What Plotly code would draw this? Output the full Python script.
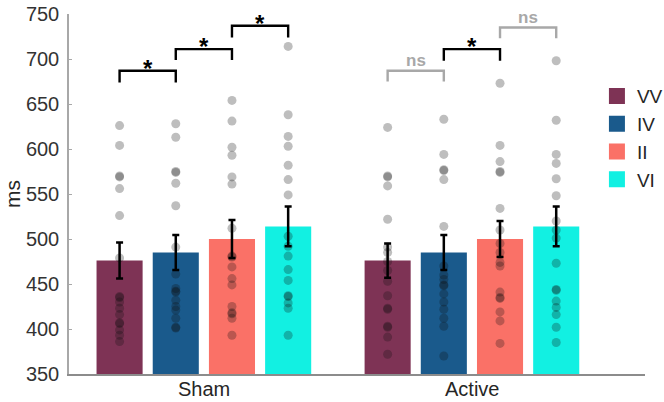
import plotly.graph_objects as go

# ---------------- data ----------------
groups = ["Sham", "Active"]
conditions = ["VV", "IV", "II", "VI"]
colors = ["#7E3355", "#1A5A8C", "#FA7167", "#12F0E2"]

mean_sham = [476, 485, 500, 514]
mean_active = [476, 485, 500, 514]
sem_sham = [20, 19.5, 21, 22]
sem_active = [19, 19.5, 20, 22]

sham_VV = [626, 604, 569, 570, 556, 526, 479, 436, 435, 430, 423, 416, 407, 406, 399, 393, 386]
sham_IV = [628, 613, 575, 574, 562, 537, 491, 461, 445, 442, 441, 432, 425, 421, 412, 402, 401]
sham_II = [654, 631, 602, 593, 569, 561, 512, 481, 480, 469, 456, 449, 425, 418, 417, 412, 393]
sham_VI = [714, 638, 614, 603, 582, 566, 549, 503, 492, 481, 466, 454, 437, 436, 429, 423, 393]
active_VV = [624, 570, 569, 559, 522, 491, 485, 475, 465, 453, 437, 423, 422, 403, 402, 391, 372]
active_IV = [633, 594, 577, 576, 566, 514, 470, 460, 455, 449, 448, 439, 430, 422, 412, 403, 370]
active_II = [673, 604, 586, 575, 574, 534, 510, 495, 485, 474, 470, 441, 435, 434, 419, 409, 384]
active_VI = [698, 632, 594, 584, 567, 548, 520, 510, 501, 473, 444, 443, 431, 424, 416, 402, 385]

points = {
    "Sham": [sham_VV, sham_IV, sham_II, sham_VI],
    "Active": [active_VV, active_IV, active_II, active_VI],
}
means = {"Sham": mean_sham, "Active": mean_active}
sems = {"Sham": sem_sham, "Active": sem_active}

# comparisons: (group, cond index a, cond index b, label, bracket top value, bracket leg bottom value)
comparisons = [
    ("Sham", 0, 1, "*", 687, 674),
    ("Sham", 1, 2, "*", 711, 699),
    ("Sham", 2, 3, "*", 737, 724),
    ("Active", 0, 1, "ns", 687, 675),
    ("Active", 1, 2, "*", 711, 698),
    ("Active", 2, 3, "ns", 735, 723),
]

# ---------------- layout helpers ----------------
group_start = {"Sham": 0.0, "Active": 4.77}
bar_w = 0.82


def xpos(g, i):
    return group_start[g] + i


fig = go.Figure()

# bars
for i, c in enumerate(conditions):
    fig.add_trace(go.Bar(
        x=[xpos(g, i) for g in groups],
        y=[means[g][i] for g in groups],
        width=bar_w,
        marker=dict(color=colors[i], line=dict(width=0)),
        showlegend=False,
        hoverinfo="skip",
    ))

# individual points
for g in groups:
    for i, c in enumerate(conditions):
        vals = points[g][i]
        fig.add_trace(go.Scatter(
            x=[xpos(g, i)] * len(vals),
            y=vals,
            mode="markers",
            marker=dict(size=9, color="rgba(15,15,15,0.27)", line=dict(width=0)),
            showlegend=False,
            hoverinfo="skip",
        ))

# error bars (on top of points)
for g in groups:
    fig.add_trace(go.Scatter(
        x=[xpos(g, i) for i in range(len(conditions))],
        y=means[g],
        mode="markers",
        marker=dict(size=1, color="rgba(0,0,0,0)"),
        error_y=dict(type="data", array=sems[g], color="black", thickness=2.5, width=3.5),
        showlegend=False,
        hoverinfo="skip",
    ))

# significance brackets
annotations = []
for g, a, b, lab, ytop, ybot in comparisons:
    xa, xb = xpos(g, a), xpos(g, b)
    col = "black" if lab == "*" else "#A8A8A8"
    fig.add_trace(go.Scatter(
        x=[xa, xa, xb, xb], y=[ybot, ytop, ytop, ybot],
        mode="lines", line=dict(color=col, width=2.4),
        showlegend=False, hoverinfo="skip",
    ))
    if lab == "*":
        annotations.append(dict(x=(xa + xb) / 2, y=ytop, text="<b>*</b>", showarrow=False,
                                xref="x", yref="y", yanchor="bottom", yshift=-13,
                                font=dict(size=24, color="black", family="Liberation Sans, Arial")))
    else:
        annotations.append(dict(x=(xa + xb) / 2, y=ytop, text="<b>ns</b>", showarrow=False,
                                xref="x", yref="y", yanchor="bottom", yshift=-1,
                                font=dict(size=17, color="#A8A8A8", family="Liberation Sans, Arial")))

# group labels under the axis
for g in groups:
    annotations.append(dict(x=group_start[g] + 1.5, y=0, xref="x", yref="paper",
                            text=g, showarrow=False, yanchor="middle", yshift=-15,
                            font=dict(size=20, color="#262626", family="Liberation Sans, Arial")))

# legend entries
for i, c in enumerate(conditions):
    fig.add_trace(go.Scatter(
        x=[None], y=[None], mode="markers", name=c,
        marker=dict(symbol="square", size=19, color=colors[i]),
    ))

fig.update_layout(
    width=664, height=402,
    margin=dict(l=69, r=19, t=14, b=28, autoexpand=False),
    paper_bgcolor="white", plot_bgcolor="white",
    barmode="overlay",
    font=dict(family="Liberation Sans, Arial", color="#262626"),
    annotations=annotations,
    legend=dict(x=0.899, y=0.808, xref="container", yref="container",
                xanchor="left", yanchor="top",
                font=dict(size=19, color="#262626"), itemsizing="trace",
                bgcolor="rgba(0,0,0,0)"),
    xaxis=dict(range=[-0.9, 9.35], showgrid=False, zeroline=False, automargin=False,
               showline=True, linecolor="#8C8C8C", linewidth=1.5,
               showticklabels=False, ticks=""),
    yaxis=dict(range=[350, 750], showgrid=False, zeroline=False, automargin=False,
               showline=True, linecolor="#A8A8A8", linewidth=1.5,
               ticks="inside", ticklen=3, tickcolor="#A8A8A8", ticklabelstandoff=4,
               tickvals=[350, 400, 450, 500, 550, 600, 650, 700, 750],
               tickfont=dict(size=20, color="#333333"),
               title=dict(text="ms", font=dict(size=21, color="#262626"), standoff=0)),
)

fig.write_html("out.html")
